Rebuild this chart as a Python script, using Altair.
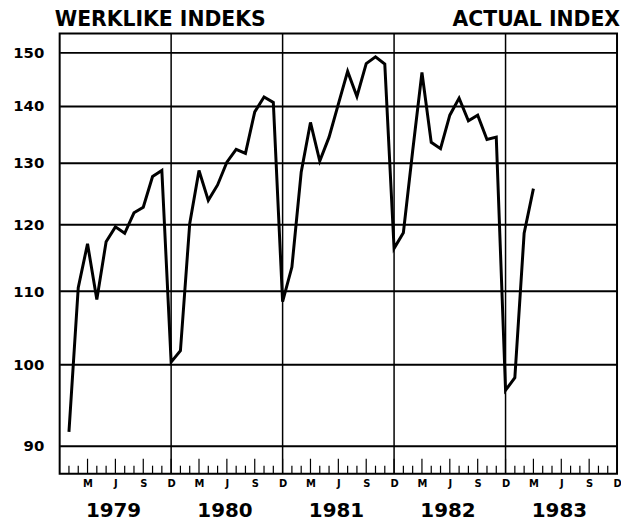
import altair as alt
import pandas as pd

# ---- data ----
YEARS = [1979, 1980, 1981, 1982, 1983]
V1979 = [91.6, 110.5, 117.0, 108.8, 117.3, 119.6, 118.6, 121.8, 122.7, 127.7, 128.7, 100.3]
V1980 = [101.8, 120.1, 128.7, 123.8, 126.3, 130.1, 132.3, 131.6, 138.9, 141.6, 140.6, 108.5]
V1981 = [113.5, 128.4, 137.0, 130.3, 134.4, 140.3, 146.4, 141.7, 147.9, 149.2, 147.8, 116.3]
V1982 = [118.7, 132.0, 146.2, 133.5, 132.4, 138.3, 141.4, 137.3, 138.3, 134.0, 134.4, 96.7]
V1983 = [98.3, 118.6, 125.7]
Y_TICKS = [90, 100, 110, 120, 130, 140, 150]
MONTH_LETTERS = ["D", "M", "J", "S"]          # quarter-end labels (Dec, Mar, Jun, Sep)
QUARTER_TICKS = [3, 6, 9, 12, 15, 18, 21, 24, 27, 30, 33, 36, 39, 42, 45, 48, 51, 54, 57, 60]
MONTH_TICKS = list(range(1, 60))
DEC_LINES = [12, 24, 36, 48]
TITLE_LEFT = "WERKLIKE INDEKS"
TITLE_RIGHT = "ACTUAL INDEX"

rows = []
for yr, vals in zip(YEARS, [V1979, V1980, V1981, V1982, V1983]):
    for i, v in enumerate(vals):
        rows.append({"m": (yr - 1979) * 12 + i + 1, "v": v})
df = pd.DataFrame(rows)

W, H = 561, 443
FONT = "DejaVu Sans"
xs = alt.Scale(domain=[0, 60], nice=False, zero=False)
ys = alt.Scale(type="log", domain=[86.76, 153.8], nice=False)

label_expr = "[" + ",".join("'%s'" % s for s in MONTH_LETTERS) + "][(datum.value / 3) % 4]"

x_axis = alt.Axis(
    values=QUARTER_TICKS, labelExpr=label_expr, grid=False, ticks=False, domain=False,
    labelFont=FONT, labelFontSize=10, labelFontWeight="bold", labelColor="black",
    labelPadding=5, labelFlush=False, labelOverlap=False, labelBound=False, title=None)
X = alt.X("m:Q", scale=xs, axis=x_axis)

line = alt.Chart(df).mark_line(color="black", strokeWidth=3).encode(
    x=X,
    y=alt.Y("v:Q", scale=ys, axis=alt.Axis(
        values=Y_TICKS, grid=True, gridColor="black", gridWidth=2, gridOpacity=1,
        ticks=False, domain=False, labelFont=FONT, labelFontSize=15,
        labelFontWeight="bold", labelColor="black", labelPadding=16, title=None)),
)

vgrid = alt.Chart(pd.DataFrame({"m": DEC_LINES})).mark_rule(color="black", strokeWidth=1.5).encode(
    x=X
)

ticks_df = pd.DataFrame({"m": MONTH_TICKS})
minor = alt.Chart(ticks_df).transform_filter("datum.m % 3 != 0").mark_rule(
    color="black", strokeWidth=1.2).encode(
    x=X, y=alt.value(H), y2=alt.value(H - 8))
major = alt.Chart(ticks_df).transform_filter("datum.m % 3 == 0").mark_rule(
    color="black", strokeWidth=1.2).encode(
    x=X, y=alt.value(H), y2=alt.value(H - 15))

years = alt.Chart(pd.DataFrame({"year": YEARS})).transform_calculate(
    m="(datum.year - 1979) * 12 + 5.8").mark_text(
    font=FONT, fontSize=20, fontWeight="bold", color="black", baseline="middle").encode(
    x=X, y=alt.value(H + 38), text="year:N")

t_left = alt.Chart(pd.DataFrame({"t": [TITLE_LEFT]})).mark_text(
    font=FONT, fontSize=20.5, fontWeight="bold", color="black", align="left",
    baseline="top").encode(x=alt.value(-5), y=alt.value(-23.5), text="t:N")
t_right = alt.Chart(pd.DataFrame({"t": [TITLE_RIGHT]})).mark_text(
    font=FONT, fontSize=20.5, fontWeight="bold", color="black", align="right",
    baseline="top").encode(x=alt.value(W + 3), y=alt.value(-23.5), text="t:N")

chart = alt.layer(line, vgrid, minor, major, years, t_left, t_right).properties(
    width=W, height=H,
    autosize=alt.AutoSizeParams(type="none"),
    padding={"left": 52, "top": 24, "right": 4, "bottom": 46},
    background="white",
).configure_view(stroke="black", strokeWidth=2)

chart.save("out.html", embed_options={"renderer": "svg", "actions": False})
